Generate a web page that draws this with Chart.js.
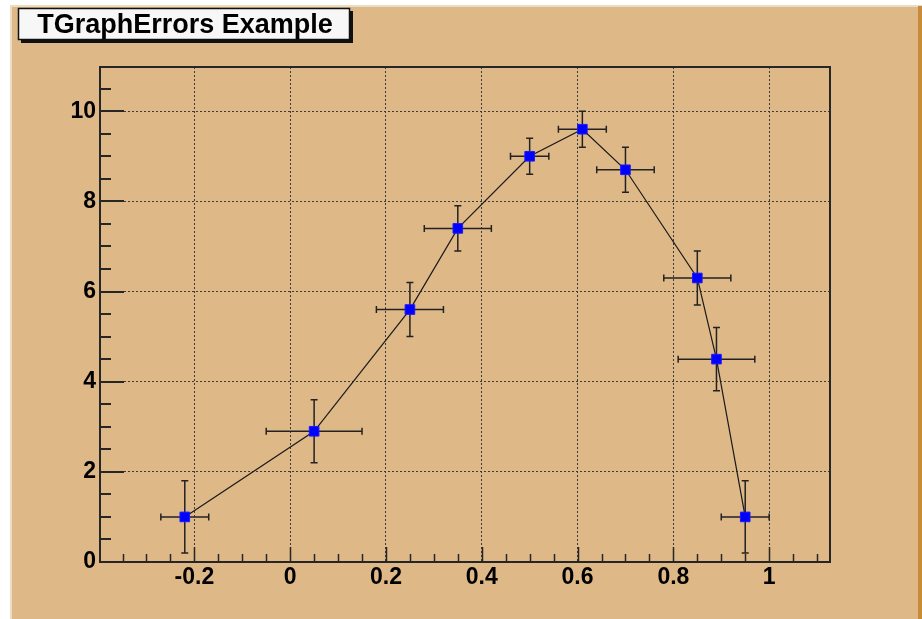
<!DOCTYPE html>
<html>
<head>
<meta charset="utf-8">
<title>TGraphErrors Example</title>
<script src="https://cdn.jsdelivr.net/npm/chart.js@4.4.1/dist/chart.umd.min.js"></script>
<style>
  html, body { margin: 0; padding: 0; background: #ffffff; }
  canvas { display: block; }
</style>
</head>
<body>
<canvas id="graph" width="922" height="619"></canvas>
<script>
// graph points and their errors
const xValues = [-0.22, 0.05, 0.25, 0.35, 0.5, 0.61, 0.7, 0.85, 0.89, 0.95];
const yValues = [1, 2.9, 5.6, 7.4, 9, 9.6, 8.7, 6.3, 4.5, 1];
const xErrors = [0.05, 0.1, 0.07, 0.07, 0.04, 0.05, 0.06, 0.07, 0.08, 0.05];
const yErrors = [0.8, 0.7, 0.6, 0.5, 0.4, 0.4, 0.5, 0.6, 0.7, 0.8];

const titleText = 'TGraphErrors Example';
const xTickValues = [-0.2, 0, 0.2, 0.4, 0.6, 0.8, 1];
const xTickLabels = ['-0.2', '0', '0.2', '0.4', '0.6', '0.8', '1'];
const yTickValues = [0, 2, 4, 6, 8, 10];
const yTickLabels = ['0', '2', '4', '6', '8', '10'];
const xRange = [-0.397, 1.127];
const yRange = [0, 10.98];

const FONT = '"Liberation Sans", Arial, Helvetica, sans-serif';
const PAD = '#deb887';
const INK = '#262626';

const points = xValues.map((x, i) => ({ x: x, y: yValues[i] }));

// canvas background with the bevel edges
const padBackground = {
  id: 'padBackground',
  beforeDraw(chart) {
    const ctx = chart.ctx;
    const w = chart.width, h = chart.height;
    ctx.save();
    ctx.fillStyle = '#ffffff';
    ctx.fillRect(0, 0, w, h);
    ctx.fillStyle = '#eedcc2';
    ctx.fillRect(10, 5, w - 10, h - 5);
    ctx.fillStyle = PAD;
    ctx.fillRect(12, 7, w - 16, h - 7);
    ctx.fillStyle = '#c98a3a';
    ctx.fillRect(w - 4, 6, 4, h - 6);
    ctx.restore();
  }
};

// frame, major/minor ticks and error bars
const frameAndErrors = {
  id: 'frameAndErrors',
  beforeDatasetsDraw(chart) {
    const ctx = chart.ctx;
    const area = chart.chartArea;
    const xs = chart.scales.x, ys = chart.scales.y;
    ctx.save();

    ctx.strokeStyle = INK;
    ctx.lineWidth = 1.5;
    ctx.beginPath();
    for (let k = Math.ceil(xs.min / 0.05); k * 0.05 <= xs.max + 1e-9; k++) {
      const px = Math.round(xs.getPixelForValue(k * 0.05)) + 0.5;
      const len = (k % 4 === 0) ? 15 : 8;
      ctx.moveTo(px, area.bottom);
      ctx.lineTo(px, area.bottom - len);
    }
    ctx.stroke();

    ctx.lineWidth = 2;
    ctx.beginPath();
    for (let k = Math.ceil(ys.min / 0.5); k * 0.5 <= ys.max + 1e-9; k++) {
      const py = Math.round(ys.getPixelForValue(k * 0.5));
      const len = (k % 4 === 0) ? 24 : 11;
      ctx.moveTo(area.left, py);
      ctx.lineTo(area.left + len, py);
    }
    ctx.stroke();

    ctx.strokeRect(area.left, area.top, area.right - area.left, area.bottom - area.top);

    ctx.strokeStyle = '#222222';
    ctx.lineWidth = 1.5;
    const cap = 3.5;
    ctx.beginPath();
    xValues.forEach((x, i) => {
      const y = yValues[i];
      const px = xs.getPixelForValue(x);
      const py = ys.getPixelForValue(y);
      const xl = xs.getPixelForValue(x - xErrors[i]);
      const xr = xs.getPixelForValue(x + xErrors[i]);
      const yt = ys.getPixelForValue(y + yErrors[i]);
      const yb = ys.getPixelForValue(y - yErrors[i]);
      ctx.moveTo(xl, py); ctx.lineTo(xr, py);
      ctx.moveTo(xl, py - cap); ctx.lineTo(xl, py + cap);
      ctx.moveTo(xr, py - cap); ctx.lineTo(xr, py + cap);
      ctx.moveTo(px, yt); ctx.lineTo(px, yb);
      ctx.moveTo(px - cap, yt); ctx.lineTo(px + cap, yt);
      ctx.moveTo(px - cap, yb); ctx.lineTo(px + cap, yb);
    });
    ctx.stroke();
    ctx.restore();
  }
};

// title box in the upper left corner
const titleBox = {
  id: 'titleBox',
  afterDraw(chart) {
    const ctx = chart.ctx;
    ctx.save();
    ctx.fillStyle = '#111111';
    ctx.fillRect(21, 11, 332, 32);
    ctx.fillStyle = '#f7f7f7';
    ctx.fillRect(18, 8, 332, 32);
    ctx.strokeStyle = '#111111';
    ctx.lineWidth = 1.5;
    ctx.strokeRect(18.5, 8.5, 331, 31);
    ctx.fillStyle = '#000000';
    ctx.font = 'bold 27px ' + FONT;
    ctx.textAlign = 'center';
    ctx.textBaseline = 'alphabetic';
    ctx.fillText(titleText, 185, 33);
    ctx.restore();
  }
};

new Chart(document.getElementById('graph'), {
  type: 'scatter',
  data: {
    datasets: [{
      data: points,
      showLine: true,
      borderColor: '#1a1a1a',
      borderWidth: 1.2,
      pointStyle: 'rect',
      pointRadius: 6.8,
      pointHoverRadius: 6.8,
      pointBackgroundColor: '#0000ff',
      pointBorderColor: '#1a1aff',
      pointBorderWidth: 1,
      tension: 0
    }]
  },
  options: {
    responsive: false,
    devicePixelRatio: 1,
    animation: false,
    layout: { padding: { left: 40, right: 92, top: 67, bottom: 17 } },
    plugins: {
      legend: { display: false },
      title: { display: false },
      tooltip: { enabled: false }
    },
    scales: {
      x: {
        type: 'linear',
        min: xRange[0],
        max: xRange[1],
        afterFit(scale) { scale.height = 40; },
        afterBuildTicks(scale) { scale.ticks = xTickValues.map(v => ({ value: v })); },
        border: { display: false, dash: [2, 2] },
        grid: { color: '#3a3a3a', lineWidth: 1, drawTicks: false },
        ticks: {
          padding: 2,
          color: '#000000',
          font: { family: FONT, size: 23, weight: 'bold' },
          maxRotation: 0,
          callback: (v, i) => xTickLabels[i]
        }
      },
      y: {
        type: 'linear',
        min: yRange[0],
        max: yRange[1],
        afterFit(scale) { scale.width = 60; },
        afterBuildTicks(scale) { scale.ticks = yTickValues.map(v => ({ value: v })); },
        border: { display: false, dash: [2, 2] },
        grid: { color: '#3a3a3a', lineWidth: 1, drawTicks: false },
        ticks: {
          padding: 4,
          color: '#000000',
          font: { family: FONT, size: 23, weight: 'bold' },
          callback: (v, i) => yTickLabels[i]
        }
      }
    }
  },
  plugins: [padBackground, frameAndErrors, titleBox]
});
</script>
</body>
</html>
